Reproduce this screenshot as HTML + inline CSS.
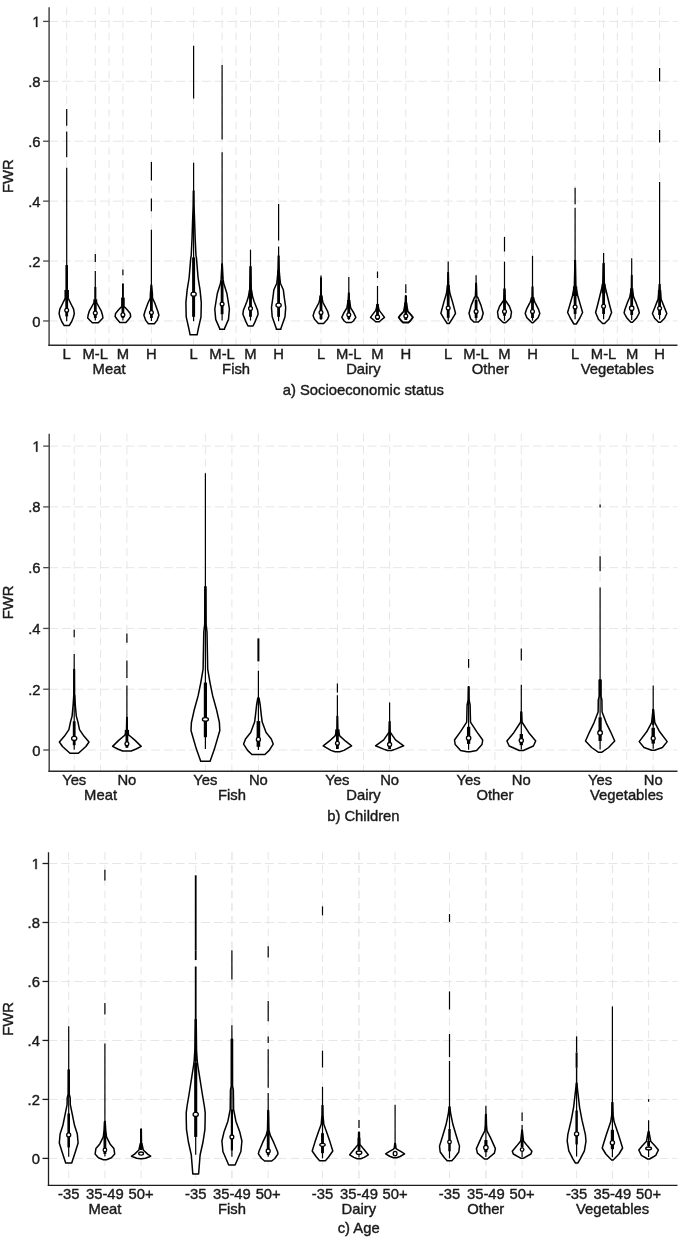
<!DOCTYPE html>
<html><head><meta charset="utf-8"><style>
html,body{margin:0;padding:0;background:#fff;}
svg{display:block;}
text{font-family:"Liberation Sans", sans-serif;font-size:14.8px;fill:#1a1a1a;stroke:#1a1a1a;stroke-width:0.4px;}
.ttl{font-size:14.8px;}
svg{filter:blur(0.35px);}
</style></head><body>
<svg width="685" height="1241" viewBox="0 0 685 1241">
<rect width="685" height="1241" fill="#fff"/>
<line x1="66.7" y1="7.2" x2="66.7" y2="345.3" stroke="#e6e6e6" stroke-width="1" stroke-dasharray="7.8 4.93"/>
<line x1="95.3" y1="7.2" x2="95.3" y2="345.3" stroke="#e6e6e6" stroke-width="1" stroke-dasharray="7.8 4.93"/>
<line x1="109.05" y1="7.2" x2="109.05" y2="345.3" stroke="#e6e6e6" stroke-width="1" stroke-dasharray="7.8 4.93"/>
<line x1="122.9" y1="7.2" x2="122.9" y2="345.3" stroke="#e6e6e6" stroke-width="1" stroke-dasharray="7.8 4.93"/>
<line x1="151.4" y1="7.2" x2="151.4" y2="345.3" stroke="#e6e6e6" stroke-width="1" stroke-dasharray="7.8 4.93"/>
<line x1="193.6" y1="7.2" x2="193.6" y2="345.3" stroke="#e6e6e6" stroke-width="1" stroke-dasharray="7.8 4.93"/>
<line x1="222.1" y1="7.2" x2="222.1" y2="345.3" stroke="#e6e6e6" stroke-width="1" stroke-dasharray="7.8 4.93"/>
<line x1="236.1" y1="7.2" x2="236.1" y2="345.3" stroke="#e6e6e6" stroke-width="1" stroke-dasharray="7.8 4.93"/>
<line x1="250.5" y1="7.2" x2="250.5" y2="345.3" stroke="#e6e6e6" stroke-width="1" stroke-dasharray="7.8 4.93"/>
<line x1="278.6" y1="7.2" x2="278.6" y2="345.3" stroke="#e6e6e6" stroke-width="1" stroke-dasharray="7.8 4.93"/>
<line x1="321" y1="7.2" x2="321" y2="345.3" stroke="#e6e6e6" stroke-width="1" stroke-dasharray="7.8 4.93"/>
<line x1="348.8" y1="7.2" x2="348.8" y2="345.3" stroke="#e6e6e6" stroke-width="1" stroke-dasharray="7.8 4.93"/>
<line x1="363.4" y1="7.2" x2="363.4" y2="345.3" stroke="#e6e6e6" stroke-width="1" stroke-dasharray="7.8 4.93"/>
<line x1="377.5" y1="7.2" x2="377.5" y2="345.3" stroke="#e6e6e6" stroke-width="1" stroke-dasharray="7.8 4.93"/>
<line x1="405.8" y1="7.2" x2="405.8" y2="345.3" stroke="#e6e6e6" stroke-width="1" stroke-dasharray="7.8 4.93"/>
<line x1="448.2" y1="7.2" x2="448.2" y2="345.3" stroke="#e6e6e6" stroke-width="1" stroke-dasharray="7.8 4.93"/>
<line x1="476.1" y1="7.2" x2="476.1" y2="345.3" stroke="#e6e6e6" stroke-width="1" stroke-dasharray="7.8 4.93"/>
<line x1="490.35" y1="7.2" x2="490.35" y2="345.3" stroke="#e6e6e6" stroke-width="1" stroke-dasharray="7.8 4.93"/>
<line x1="504.5" y1="7.2" x2="504.5" y2="345.3" stroke="#e6e6e6" stroke-width="1" stroke-dasharray="7.8 4.93"/>
<line x1="532.5" y1="7.2" x2="532.5" y2="345.3" stroke="#e6e6e6" stroke-width="1" stroke-dasharray="7.8 4.93"/>
<line x1="575.1" y1="7.2" x2="575.1" y2="345.3" stroke="#e6e6e6" stroke-width="1" stroke-dasharray="7.8 4.93"/>
<line x1="603.6" y1="7.2" x2="603.6" y2="345.3" stroke="#e6e6e6" stroke-width="1" stroke-dasharray="7.8 4.93"/>
<line x1="617.35" y1="7.2" x2="617.35" y2="345.3" stroke="#e6e6e6" stroke-width="1" stroke-dasharray="7.8 4.93"/>
<line x1="632.1" y1="7.2" x2="632.1" y2="345.3" stroke="#e6e6e6" stroke-width="1" stroke-dasharray="7.8 4.93"/>
<line x1="659.6" y1="7.2" x2="659.6" y2="345.3" stroke="#e6e6e6" stroke-width="1" stroke-dasharray="7.8 4.93"/>
<line x1="49.1" y1="320.95" x2="677.5" y2="320.95" stroke="#e6e6e6" stroke-width="1" stroke-dasharray="8.9 3.83"/>
<line x1="49.1" y1="261.04" x2="677.5" y2="261.04" stroke="#e6e6e6" stroke-width="1" stroke-dasharray="8.9 3.83"/>
<line x1="49.1" y1="201.13" x2="677.5" y2="201.13" stroke="#e6e6e6" stroke-width="1" stroke-dasharray="8.9 3.83"/>
<line x1="49.1" y1="141.22" x2="677.5" y2="141.22" stroke="#e6e6e6" stroke-width="1" stroke-dasharray="8.9 3.83"/>
<line x1="49.1" y1="81.31" x2="677.5" y2="81.31" stroke="#e6e6e6" stroke-width="1" stroke-dasharray="8.9 3.83"/>
<line x1="49.1" y1="21.4" x2="677.5" y2="21.4" stroke="#e6e6e6" stroke-width="1" stroke-dasharray="8.9 3.83"/>
<line x1="66.7" y1="108.9" x2="66.7" y2="125.8" stroke="#000" stroke-width="1.2"/><line x1="66.7" y1="131.4" x2="66.7" y2="157.2" stroke="#000" stroke-width="1.2"/><line x1="66.7" y1="167.7" x2="66.7" y2="266" stroke="#000" stroke-width="1.2"/><rect x="65.4" y="265.1" width="2.6" height="24.8" fill="#000"/><rect x="64.45" y="289.9" width="4.5" height="9" fill="#000"/><rect x="66.25" y="290.9" width="0.9" height="7" fill="#777"/><path d="M68.5 298.9 L71 304 L73.6 309.1 L74.3 313.6 L73.3 317.5 L71.7 321.5 L69.2 325.6 L64.2 325.6 L61.7 321.5 L60.1 317.5 L59.1 313.6 L59.8 309.1 L62.4 304 L64.9 298.9 Z" fill="#fff" stroke="#000" stroke-width="1.5" stroke-linejoin="round"/><line x1="66.7" y1="289.9" x2="66.7" y2="321.2" stroke="#000" stroke-width="1.2"/><line x1="66.7" y1="289.9" x2="66.7" y2="316.4" stroke="#000" stroke-width="2.8"/><circle cx="66.7" cy="310.2" r="1.9" fill="#fff" stroke="#000" stroke-width="1.3"/>
<line x1="95.3" y1="253.9" x2="95.3" y2="262.1" stroke="#000" stroke-width="1.2"/><line x1="95.3" y1="271" x2="95.3" y2="288" stroke="#000" stroke-width="1.2"/><rect x="94.25" y="287.1" width="2.1" height="12.3" fill="#000"/><rect x="93.35" y="299.4" width="3.9" height="3.6" fill="#000"/><path d="M96.8 303 L101.2 310.8 L102.5 315.2 L102.9 318 L98.3 322.8 L92.3 322.8 L87.7 318 L88.1 315.2 L89.4 310.8 L93.8 303 Z" fill="#fff" stroke="#000" stroke-width="1.5" stroke-linejoin="round"/><line x1="95.3" y1="299.4" x2="95.3" y2="320.4" stroke="#000" stroke-width="1.2"/><line x1="95.3" y1="299.4" x2="95.3" y2="318" stroke="#000" stroke-width="2.8"/><circle cx="95.3" cy="313" r="1.9" fill="#fff" stroke="#000" stroke-width="1.3"/>
<line x1="122.9" y1="269.6" x2="122.9" y2="275.3" stroke="#000" stroke-width="1.2"/><line x1="122.9" y1="283.6" x2="122.9" y2="298" stroke="#000" stroke-width="1.2"/><rect x="122.05" y="283.6" width="1.7" height="14.1" fill="#000"/><rect x="121.2" y="297.7" width="3.4" height="9.6" fill="#000"/><path d="M124.9 307.3 L127.4 310 L130.2 313.4 L130.7 316.5 L128.9 319 L125.9 322.5 L119.9 322.5 L116.9 319 L115.1 316.5 L115.6 313.4 L118.4 310 L120.9 307.3 Z" fill="#fff" stroke="#000" stroke-width="1.5" stroke-linejoin="round"/><line x1="122.9" y1="297.7" x2="122.9" y2="320.4" stroke="#000" stroke-width="1.2"/><line x1="122.9" y1="297.7" x2="122.9" y2="318" stroke="#000" stroke-width="2.8"/><circle cx="122.9" cy="314.7" r="1.9" fill="#fff" stroke="#000" stroke-width="1.3"/>
<line x1="151.4" y1="162" x2="151.4" y2="180.6" stroke="#000" stroke-width="1.2"/><line x1="151.4" y1="198.6" x2="151.4" y2="211.2" stroke="#000" stroke-width="1.2"/><line x1="151.4" y1="229.7" x2="151.4" y2="286" stroke="#000" stroke-width="1.2"/><path d="M151.55 285 L152.4 293.5 L152.5 298.1 L154.7 302.7 L157.8 311.2 L158.9 315.2 L157 320.4 L154.4 323.8 L148.4 323.8 L145.8 320.4 L143.9 315.2 L145 311.2 L148.1 302.7 L150.3 298.1 L150.4 293.5 L151.25 285 Z" fill="#fff" stroke="#000" stroke-width="1.5" stroke-linejoin="round"/><rect x="150.7" y="285" width="1.4" height="8.5" fill="#000"/><line x1="151.4" y1="285" x2="151.4" y2="321" stroke="#000" stroke-width="1.2"/><line x1="151.4" y1="296.8" x2="151.4" y2="318" stroke="#000" stroke-width="2.8"/><circle cx="151.4" cy="312.6" r="1.9" fill="#fff" stroke="#000" stroke-width="1.3"/>
<line x1="193.6" y1="45.8" x2="193.6" y2="98.6" stroke="#000" stroke-width="1.2"/><line x1="193.6" y1="162.8" x2="193.6" y2="192" stroke="#000" stroke-width="1.2"/><path d="M193.85 191 L194.05 205.8 L194.65 222.6 L195.15 238 L196 256 L196.4 257.4 L198.1 278 L200 289.7 L201.3 302.6 L201 316.8 L198.4 328.4 L197.1 334.8 L190.1 334.8 L188.8 328.4 L186.2 316.8 L185.9 302.6 L187.2 289.7 L189.1 278 L190.8 257.4 L191.2 256 L192.05 238 L192.55 222.6 L193.15 205.8 L193.35 191 Z" fill="#fff" stroke="#000" stroke-width="1.5" stroke-linejoin="round"/><line x1="193.6" y1="191" x2="193.6" y2="321.3" stroke="#000" stroke-width="1.2"/><line x1="193.6" y1="257.4" x2="193.6" y2="316.8" stroke="#000" stroke-width="3.0"/><ellipse cx="193.6" cy="294.2" rx="2.6" ry="2.0" fill="#fff" stroke="#000" stroke-width="1.3"/>
<line x1="222.1" y1="65.1" x2="222.1" y2="139.6" stroke="#000" stroke-width="1.2"/><line x1="222.1" y1="152.2" x2="222.1" y2="264.5" stroke="#000" stroke-width="1.2"/><path d="M222.25 263.9 L223.1 279.4 L223.7 283.2 L226.9 293.5 L229.4 309 L228.5 319.4 L224.6 328.4 L224.4 329.2 L219.8 329.2 L219.6 328.4 L215.7 319.4 L214.8 309 L217.3 293.5 L220.5 283.2 L221.1 279.4 L221.95 263.9 Z" fill="#fff" stroke="#000" stroke-width="1.5" stroke-linejoin="round"/><rect x="221.45" y="263.9" width="1.3" height="15.5" fill="#000"/><line x1="222.1" y1="263.9" x2="222.1" y2="320.6" stroke="#000" stroke-width="1.2"/><line x1="222.1" y1="280.6" x2="222.1" y2="314.2" stroke="#000" stroke-width="2.8"/><circle cx="222.1" cy="304.1" r="1.9" fill="#fff" stroke="#000" stroke-width="1.3"/>
<line x1="250.5" y1="249.7" x2="250.5" y2="267" stroke="#000" stroke-width="1.2"/><path d="M250.65 266.5 L251.25 289.7 L252.5 296.1 L254 301.3 L257.6 310.3 L258.1 314.2 L255 321.9 L253 326 L248 326 L246 321.9 L242.9 314.2 L243.4 310.3 L247 301.3 L248.5 296.1 L249.75 289.7 L250.35 266.5 Z" fill="#fff" stroke="#000" stroke-width="1.5" stroke-linejoin="round"/><rect x="249.45" y="266.5" width="2.1" height="23.2" fill="#000"/><rect x="248.8" y="289.7" width="3.4" height="9" fill="#000"/><line x1="250.5" y1="266.5" x2="250.5" y2="320.6" stroke="#000" stroke-width="1.2"/><line x1="250.5" y1="289.7" x2="250.5" y2="316.8" stroke="#000" stroke-width="2.8"/><circle cx="250.5" cy="308.4" r="1.9" fill="#fff" stroke="#000" stroke-width="1.3"/>
<line x1="278.6" y1="203.9" x2="278.6" y2="240.6" stroke="#000" stroke-width="1.2"/><line x1="278.6" y1="246.5" x2="278.6" y2="257" stroke="#000" stroke-width="1.2"/><path d="M278.9 256.1 L279.2 270.3 L279.7 276.7 L280.4 283.2 L283.3 289.7 L284.1 296.1 L285.7 307.5 L285 316.8 L280.9 328.4 L280.9 329.2 L276.3 329.2 L276.3 328.4 L272.2 316.8 L271.5 307.5 L273.1 296.1 L273.9 289.7 L276.8 283.2 L277.5 276.7 L278 270.3 L278.3 256.1 Z" fill="#fff" stroke="#000" stroke-width="1.5" stroke-linejoin="round"/><line x1="278.6" y1="256.1" x2="278.6" y2="321.3" stroke="#000" stroke-width="1.2"/><line x1="278.6" y1="270.3" x2="278.6" y2="316.8" stroke="#000" stroke-width="2.8"/><ellipse cx="278.6" cy="305.2" rx="2.6" ry="2.1" fill="#fff" stroke="#000" stroke-width="1.3"/>
<line x1="321" y1="275.4" x2="321" y2="279" stroke="#000" stroke-width="1.2"/><path d="M321.15 278 L321.25 295.5 L323 302.5 L327.6 311.3 L328.9 315.7 L327.5 319.2 L323.6 323.4 L318.4 323.4 L314.5 319.2 L313.1 315.7 L314.4 311.3 L319 302.5 L320.75 295.5 L320.85 278 Z" fill="#fff" stroke="#000" stroke-width="1.5" stroke-linejoin="round"/><rect x="320.45" y="278" width="1.1" height="17.5" fill="#000"/><rect x="319.5" y="295.5" width="3" height="7" fill="#000"/><line x1="321" y1="278" x2="321" y2="320" stroke="#000" stroke-width="1.2"/><line x1="321" y1="295.5" x2="321" y2="319" stroke="#000" stroke-width="2.8"/><circle cx="321" cy="312.6" r="1.9" fill="#fff" stroke="#000" stroke-width="1.3"/>
<line x1="348.8" y1="277.1" x2="348.8" y2="293" stroke="#000" stroke-width="1.2"/><path d="M348.95 292.9 L349.35 299.9 L350.7 307.8 L353.8 313 L355.8 317.4 L353.4 321 L351.4 322.5 L346.2 322.5 L344.2 321 L341.8 317.4 L343.8 313 L346.9 307.8 L348.25 299.9 L348.65 292.9 Z" fill="#fff" stroke="#000" stroke-width="1.5" stroke-linejoin="round"/><rect x="347.95" y="292.9" width="1.7" height="7" fill="#000"/><rect x="347.5" y="299.9" width="2.6" height="9.6" fill="#000"/><line x1="348.8" y1="292.9" x2="348.8" y2="320" stroke="#000" stroke-width="1.2"/><line x1="348.8" y1="299.9" x2="348.8" y2="319" stroke="#000" stroke-width="2.8"/><circle cx="348.8" cy="314.8" r="1.9" fill="#fff" stroke="#000" stroke-width="1.3"/>
<line x1="377.5" y1="271.5" x2="377.5" y2="278" stroke="#000" stroke-width="1.2"/><line x1="377.5" y1="285.9" x2="377.5" y2="305" stroke="#000" stroke-width="1.2"/><path d="M377.65 304.3 L379.2 310.4 L381.9 313.9 L384.5 317.4 L381.2 320 L379.3 321.8 L375.7 321.8 L373.8 320 L370.5 317.4 L373.1 313.9 L375.8 310.4 L377.35 304.3 Z" fill="#fff" stroke="#000" stroke-width="1.5" stroke-linejoin="round"/><rect x="376.65" y="304.3" width="1.7" height="7" fill="#000"/><line x1="377.5" y1="304.3" x2="377.5" y2="320" stroke="#000" stroke-width="1.2"/><line x1="377.5" y1="304.3" x2="377.5" y2="320" stroke="#000" stroke-width="2.8"/><circle cx="377.5" cy="317" r="2.0" fill="#fff" stroke="#000" stroke-width="1.3"/>
<line x1="405.8" y1="284.2" x2="405.8" y2="292.9" stroke="#000" stroke-width="1.2"/><line x1="405.8" y1="296" x2="405.8" y2="303" stroke="#000" stroke-width="1.2"/><path d="M405.95 296 L406.15 302.5 L407.8 311.3 L411 314.8 L412.9 317.4 L410.6 320.5 L408.4 322.5 L403.2 322.5 L401 320.5 L398.7 317.4 L400.6 314.8 L403.8 311.3 L405.45 302.5 L405.65 296 Z" fill="#fff" stroke="#000" stroke-width="1.8" stroke-linejoin="round"/><rect x="405.15" y="296" width="1.3" height="6.5" fill="#000"/><rect x="404.5" y="302.5" width="2.6" height="8.8" fill="#000"/><line x1="405.8" y1="296" x2="405.8" y2="320" stroke="#000" stroke-width="1.2"/><line x1="405.8" y1="302.5" x2="405.8" y2="320" stroke="#000" stroke-width="2.8"/><circle cx="405.8" cy="316.1" r="1.9" fill="#fff" stroke="#000" stroke-width="1.3"/>
<line x1="448.2" y1="261.5" x2="448.2" y2="273" stroke="#000" stroke-width="1.2"/><path d="M448.35 272.6 L448.65 285 L450 293.8 L452.2 300.9 L453.9 307.1 L455.5 313.3 L452.4 318.7 L449.2 323.5 L447.2 323.5 L444 318.7 L440.9 313.3 L442.5 307.1 L444.2 300.9 L446.4 293.8 L447.75 285 L448.05 272.6 Z" fill="#fff" stroke="#000" stroke-width="1.5" stroke-linejoin="round"/><rect x="447.45" y="272.6" width="1.5" height="12.4" fill="#000"/><rect x="446.65" y="285" width="3.1" height="8.8" fill="#000"/><line x1="448.2" y1="272.6" x2="448.2" y2="321.3" stroke="#000" stroke-width="1.2"/><line x1="448.2" y1="293.8" x2="448.2" y2="317.8" stroke="#000" stroke-width="2.8"/><circle cx="448.2" cy="308" r="1.9" fill="#fff" stroke="#000" stroke-width="1.3"/>
<line x1="476.1" y1="275.2" x2="476.1" y2="284" stroke="#000" stroke-width="1.2"/><path d="M476.25 283.2 L476.8 296.5 L477.7 297.4 L481 305.4 L483.2 313.3 L481.6 318.7 L478.3 322 L473.9 322 L470.6 318.7 L469 313.3 L471.2 305.4 L474.5 297.4 L475.4 296.5 L475.95 283.2 Z" fill="#fff" stroke="#000" stroke-width="1.5" stroke-linejoin="round"/><rect x="475.1" y="283.2" width="2" height="13.3" fill="#000"/><line x1="476.1" y1="283.2" x2="476.1" y2="320.7" stroke="#000" stroke-width="1.2"/><line x1="476.1" y1="300" x2="476.1" y2="318" stroke="#000" stroke-width="2.8"/><circle cx="476.1" cy="311.6" r="1.9" fill="#fff" stroke="#000" stroke-width="1.3"/>
<line x1="504.5" y1="236.9" x2="504.5" y2="251.5" stroke="#000" stroke-width="1.2"/><line x1="504.5" y1="261.6" x2="504.5" y2="289" stroke="#000" stroke-width="1.2"/><path d="M504.65 288.7 L505.25 300.3 L506 301.3 L509.4 306.2 L511.5 312 L510.6 317.8 L506.9 321.6 L505.3 322.7 L503.7 322.7 L502.1 321.6 L498.4 317.8 L497.5 312 L499.6 306.2 L503 301.3 L503.75 300.3 L504.35 288.7 Z" fill="#fff" stroke="#000" stroke-width="1.5" stroke-linejoin="round"/><rect x="503.45" y="288.7" width="2.1" height="11.6" fill="#000"/><line x1="504.5" y1="288.7" x2="504.5" y2="320.7" stroke="#000" stroke-width="1.2"/><line x1="504.5" y1="300.3" x2="504.5" y2="315.8" stroke="#000" stroke-width="2.8"/><circle cx="504.5" cy="311.5" r="1.9" fill="#fff" stroke="#000" stroke-width="1.3"/>
<line x1="532.5" y1="255.8" x2="532.5" y2="287" stroke="#000" stroke-width="1.2"/><path d="M532.65 286.8 L532.9 297.4 L534.9 302.3 L535.5 303.3 L538.4 309.1 L539.8 313.4 L538.1 317.8 L534.2 321.6 L533 322.7 L532 322.7 L530.8 321.6 L526.9 317.8 L525.2 313.4 L526.6 309.1 L529.5 303.3 L530.1 302.3 L532.1 297.4 L532.35 286.8 Z" fill="#fff" stroke="#000" stroke-width="1.5" stroke-linejoin="round"/><rect x="531.8" y="286.8" width="1.4" height="10.6" fill="#000"/><rect x="530.55" y="297.4" width="3.9" height="4.9" fill="#000"/><line x1="532.5" y1="286.8" x2="532.5" y2="320.7" stroke="#000" stroke-width="1.2"/><line x1="532.5" y1="297.4" x2="532.5" y2="318" stroke="#000" stroke-width="2.8"/><circle cx="532.5" cy="311.5" r="1.9" fill="#fff" stroke="#000" stroke-width="1.3"/>
<line x1="575.1" y1="187.8" x2="575.1" y2="204.2" stroke="#000" stroke-width="1.2"/><line x1="575.1" y1="207.7" x2="575.1" y2="261" stroke="#000" stroke-width="1.2"/><path d="M575.25 260.4 L575.85 286.4 L577.8 296 L580.6 305.6 L582.6 312.5 L579.9 318 L576.3 324 L573.9 324 L570.3 318 L567.6 312.5 L569.6 305.6 L572.4 296 L574.35 286.4 L574.95 260.4 Z" fill="#fff" stroke="#000" stroke-width="1.5" stroke-linejoin="round"/><rect x="574.05" y="260.4" width="2.1" height="26" fill="#000"/><rect x="572.95" y="286.4" width="4.3" height="9.6" fill="#000"/><line x1="575.1" y1="260.4" x2="575.1" y2="319.3" stroke="#000" stroke-width="1.2"/><line x1="575.1" y1="286.4" x2="575.1" y2="314" stroke="#000" stroke-width="2.8"/><circle cx="575.1" cy="307" r="1.9" fill="#fff" stroke="#000" stroke-width="1.3"/>
<line x1="603.6" y1="252.9" x2="603.6" y2="264" stroke="#000" stroke-width="1.2"/><path d="M603.75 263.2 L604.35 283.7 L606.7 293.3 L609.4 304.2 L611.6 312.5 L608.8 319.3 L604.6 323.5 L602.6 323.5 L598.4 319.3 L595.6 312.5 L597.8 304.2 L600.5 293.3 L602.85 283.7 L603.45 263.2 Z" fill="#fff" stroke="#000" stroke-width="1.5" stroke-linejoin="round"/><rect x="602.55" y="263.2" width="2.1" height="20.5" fill="#000"/><rect x="601.65" y="283.7" width="3.9" height="9.6" fill="#000"/><line x1="603.6" y1="263.2" x2="603.6" y2="319.3" stroke="#000" stroke-width="1.2"/><line x1="603.6" y1="283.7" x2="603.6" y2="314" stroke="#000" stroke-width="2.8"/><circle cx="603.6" cy="306.3" r="1.9" fill="#fff" stroke="#000" stroke-width="1.3"/>
<line x1="631.7" y1="258.3" x2="631.7" y2="276" stroke="#000" stroke-width="1.2"/><path d="M631.85 275.4 L632 288.5 L633.7 297.3 L636.3 303.4 L638.5 309.5 L639.3 313 L636.3 318.3 L632.5 322.3 L630.9 322.3 L627.1 318.3 L624.1 313 L624.9 309.5 L627.1 303.4 L629.7 297.3 L631.4 288.5 L631.55 275.4 Z" fill="#fff" stroke="#000" stroke-width="1.5" stroke-linejoin="round"/><rect x="631.1" y="275.4" width="1.2" height="13.1" fill="#000"/><rect x="630.1" y="288.5" width="3.2" height="8.8" fill="#000"/><line x1="631.7" y1="275.4" x2="631.7" y2="320" stroke="#000" stroke-width="1.2"/><line x1="631.7" y1="288.5" x2="631.7" y2="315" stroke="#000" stroke-width="2.8"/><circle cx="631.7" cy="308.2" r="2.2" fill="#fff" stroke="#000" stroke-width="1.3"/>
<line x1="659.6" y1="67.9" x2="659.6" y2="81.4" stroke="#000" stroke-width="1.2"/><line x1="659.6" y1="130" x2="659.6" y2="142.4" stroke="#000" stroke-width="1.2"/><line x1="659.6" y1="181.9" x2="659.6" y2="285" stroke="#000" stroke-width="1.2"/><path d="M659.75 284.2 L660.15 290.3 L661.05 299 L661.4 299.9 L664.2 306.9 L666.8 313.5 L664.6 318.3 L660.6 322.3 L658.6 322.3 L654.6 318.3 L652.4 313.5 L655 306.9 L657.8 299.9 L658.15 299 L659.05 290.3 L659.45 284.2 Z" fill="#fff" stroke="#000" stroke-width="1.5" stroke-linejoin="round"/><rect x="658.75" y="284.2" width="1.7" height="6.1" fill="#000"/><rect x="657.85" y="290.3" width="3.5" height="8.7" fill="#000"/><line x1="659.6" y1="284.2" x2="659.6" y2="319.5" stroke="#000" stroke-width="1.2"/><line x1="659.6" y1="290.3" x2="659.6" y2="315" stroke="#000" stroke-width="2.8"/><circle cx="659.6" cy="308.2" r="1.9" fill="#fff" stroke="#000" stroke-width="1.3"/>
<line x1="49.1" y1="7.2" x2="49.1" y2="346" stroke="#484848" stroke-width="1.5"/>
<line x1="48.4" y1="345.3" x2="677.5" y2="345.3" stroke="#2a2a2a" stroke-width="1.4"/>
<line x1="43.1" y1="320.95" x2="49.1" y2="320.95" stroke="#484848" stroke-width="1.3"/>
<text x="40.5" y="326.55" text-anchor="end">0</text>
<line x1="43.1" y1="261.04" x2="49.1" y2="261.04" stroke="#484848" stroke-width="1.3"/>
<text x="40.5" y="266.64" text-anchor="end">.2</text>
<line x1="43.1" y1="201.13" x2="49.1" y2="201.13" stroke="#484848" stroke-width="1.3"/>
<text x="40.5" y="206.73" text-anchor="end">.4</text>
<line x1="43.1" y1="141.22" x2="49.1" y2="141.22" stroke="#484848" stroke-width="1.3"/>
<text x="40.5" y="146.82" text-anchor="end">.6</text>
<line x1="43.1" y1="81.31" x2="49.1" y2="81.31" stroke="#484848" stroke-width="1.3"/>
<text x="40.5" y="86.91" text-anchor="end">.8</text>
<line x1="43.1" y1="21.4" x2="49.1" y2="21.4" stroke="#484848" stroke-width="1.3"/>
<path transform="translate(32.27 27) scale(0.007227 -0.007227)" d="M515 0V1237L197 1010V1180L530 1409H696V0Z" fill="#1a1a1a" stroke="#1a1a1a" stroke-width="55.4"/>
<text x="0" y="0" text-anchor="middle" transform="translate(13.1 176.25) rotate(-90)">FWR</text>
<text x="66.7" y="359.2" text-anchor="middle">L</text>
<text x="95.3" y="359.2" text-anchor="middle">M-L</text>
<text x="122.9" y="359.2" text-anchor="middle">M</text>
<text x="151.4" y="359.2" text-anchor="middle">H</text>
<text x="109.05" y="373.9" text-anchor="middle">Meat</text>
<text x="193.6" y="359.2" text-anchor="middle">L</text>
<text x="222.1" y="359.2" text-anchor="middle">M-L</text>
<text x="250.5" y="359.2" text-anchor="middle">M</text>
<text x="278.6" y="359.2" text-anchor="middle">H</text>
<text x="236.1" y="373.9" text-anchor="middle">Fish</text>
<text x="321" y="359.2" text-anchor="middle">L</text>
<text x="348.8" y="359.2" text-anchor="middle">M-L</text>
<text x="377.5" y="359.2" text-anchor="middle">M</text>
<text x="405.8" y="359.2" text-anchor="middle">H</text>
<text x="363.4" y="373.9" text-anchor="middle">Dairy</text>
<text x="448.2" y="359.2" text-anchor="middle">L</text>
<text x="476.1" y="359.2" text-anchor="middle">M-L</text>
<text x="504.5" y="359.2" text-anchor="middle">M</text>
<text x="532.5" y="359.2" text-anchor="middle">H</text>
<text x="490.35" y="373.9" text-anchor="middle">Other</text>
<text x="575.1" y="359.2" text-anchor="middle">L</text>
<text x="603.6" y="359.2" text-anchor="middle">M-L</text>
<text x="632.1" y="359.2" text-anchor="middle">M</text>
<text x="659.6" y="359.2" text-anchor="middle">H</text>
<text x="617.35" y="373.9" text-anchor="middle">Vegetables</text>
<text x="363.3" y="395.4" text-anchor="middle" class="ttl">a) Socioeconomic status</text>
<line x1="74.2" y1="433.7" x2="74.2" y2="771.2" stroke="#e6e6e6" stroke-width="1" stroke-dasharray="7.8 4.93"/>
<line x1="100.55" y1="433.7" x2="100.55" y2="771.2" stroke="#e6e6e6" stroke-width="1" stroke-dasharray="7.8 4.93"/>
<line x1="126.9" y1="433.7" x2="126.9" y2="771.2" stroke="#e6e6e6" stroke-width="1" stroke-dasharray="7.8 4.93"/>
<line x1="205.4" y1="433.7" x2="205.4" y2="771.2" stroke="#e6e6e6" stroke-width="1" stroke-dasharray="7.8 4.93"/>
<line x1="231.9" y1="433.7" x2="231.9" y2="771.2" stroke="#e6e6e6" stroke-width="1" stroke-dasharray="7.8 4.93"/>
<line x1="258.4" y1="433.7" x2="258.4" y2="771.2" stroke="#e6e6e6" stroke-width="1" stroke-dasharray="7.8 4.93"/>
<line x1="337.4" y1="433.7" x2="337.4" y2="771.2" stroke="#e6e6e6" stroke-width="1" stroke-dasharray="7.8 4.93"/>
<line x1="363.5" y1="433.7" x2="363.5" y2="771.2" stroke="#e6e6e6" stroke-width="1" stroke-dasharray="7.8 4.93"/>
<line x1="389.6" y1="433.7" x2="389.6" y2="771.2" stroke="#e6e6e6" stroke-width="1" stroke-dasharray="7.8 4.93"/>
<line x1="468.6" y1="433.7" x2="468.6" y2="771.2" stroke="#e6e6e6" stroke-width="1" stroke-dasharray="7.8 4.93"/>
<line x1="494.95" y1="433.7" x2="494.95" y2="771.2" stroke="#e6e6e6" stroke-width="1" stroke-dasharray="7.8 4.93"/>
<line x1="521.3" y1="433.7" x2="521.3" y2="771.2" stroke="#e6e6e6" stroke-width="1" stroke-dasharray="7.8 4.93"/>
<line x1="600.1" y1="433.7" x2="600.1" y2="771.2" stroke="#e6e6e6" stroke-width="1" stroke-dasharray="7.8 4.93"/>
<line x1="626.65" y1="433.7" x2="626.65" y2="771.2" stroke="#e6e6e6" stroke-width="1" stroke-dasharray="7.8 4.93"/>
<line x1="653.2" y1="433.7" x2="653.2" y2="771.2" stroke="#e6e6e6" stroke-width="1" stroke-dasharray="7.8 4.93"/>
<line x1="49.2" y1="750" x2="677.5" y2="750" stroke="#e6e6e6" stroke-width="1" stroke-dasharray="8.9 3.83"/>
<line x1="49.2" y1="689.22" x2="677.5" y2="689.22" stroke="#e6e6e6" stroke-width="1" stroke-dasharray="8.9 3.83"/>
<line x1="49.2" y1="628.44" x2="677.5" y2="628.44" stroke="#e6e6e6" stroke-width="1" stroke-dasharray="8.9 3.83"/>
<line x1="49.2" y1="567.66" x2="677.5" y2="567.66" stroke="#e6e6e6" stroke-width="1" stroke-dasharray="8.9 3.83"/>
<line x1="49.2" y1="506.88" x2="677.5" y2="506.88" stroke="#e6e6e6" stroke-width="1" stroke-dasharray="8.9 3.83"/>
<line x1="49.2" y1="446.1" x2="677.5" y2="446.1" stroke="#e6e6e6" stroke-width="1" stroke-dasharray="8.9 3.83"/>
<line x1="74.2" y1="629.8" x2="74.2" y2="637.2" stroke="#000" stroke-width="1.2"/><line x1="74.2" y1="653.9" x2="74.2" y2="670" stroke="#000" stroke-width="1.2"/><path d="M74.5 669.6 L74.6 694.8 L75.35 705.8 L76.3 716.1 L77.9 721.9 L79.5 729.7 L83.9 736.1 L89 742 L85.9 746.5 L78.4 753.3 L70 753.3 L62.5 746.5 L59.4 742 L64.5 736.1 L68.9 729.7 L70.5 721.9 L72.1 716.1 L73.05 705.8 L73.8 694.8 L73.9 669.6 Z" fill="#fff" stroke="#000" stroke-width="1.5" stroke-linejoin="round"/><rect x="73.65" y="669.6" width="1.1" height="25.2" fill="#000"/><rect x="73.05" y="694.8" width="2.3" height="11" fill="#000"/><line x1="74.2" y1="669.6" x2="74.2" y2="749.7" stroke="#000" stroke-width="1.2"/><line x1="74.2" y1="721.3" x2="74.2" y2="745.2" stroke="#000" stroke-width="2.8"/><ellipse cx="74.2" cy="738.4" rx="2.6" ry="2.0" fill="#fff" stroke="#000" stroke-width="1.3"/>
<line x1="126.9" y1="633.5" x2="126.9" y2="642.8" stroke="#000" stroke-width="1.2"/><line x1="126.9" y1="660.4" x2="126.9" y2="678" stroke="#000" stroke-width="1.2"/><line x1="126.9" y1="685.4" x2="126.9" y2="718" stroke="#000" stroke-width="1.2"/><path d="M127.05 717.4 L127.3 729.9 L128.75 735.2 L129.7 735.8 L135.1 740.4 L141.2 746.4 L136.1 749 L131.2 751 L122.6 751 L117.7 749 L112.6 746.4 L118.7 740.4 L124.1 735.8 L125.05 735.2 L126.5 729.9 L126.75 717.4 Z" fill="#fff" stroke="#000" stroke-width="1.5" stroke-linejoin="round"/><rect x="126.2" y="717.4" width="1.4" height="12.5" fill="#000"/><rect x="124.75" y="729.9" width="4.3" height="5.3" fill="#000"/><line x1="126.9" y1="717.4" x2="126.9" y2="747.7" stroke="#000" stroke-width="1.2"/><line x1="126.9" y1="730" x2="126.9" y2="747.7" stroke="#000" stroke-width="2.8"/><circle cx="126.9" cy="743.7" r="1.9" fill="#fff" stroke="#000" stroke-width="1.3"/>
<line x1="205.4" y1="473.3" x2="205.4" y2="590" stroke="#000" stroke-width="1.2"/><path d="M205.9 586.8 L206.1 624 L207 632 L207.7 669.2 L210 682.6 L212.7 695.9 L216.4 709.2 L219.4 722.5 L219.8 730.5 L218.3 735.8 L214.4 749.1 L210.1 761.2 L200.7 761.2 L196.4 749.1 L192.5 735.8 L191 730.5 L191.4 722.5 L194.4 709.2 L198.1 695.9 L200.8 682.6 L203.1 669.2 L203.8 632 L204.7 624 L204.9 586.8 Z" fill="#fff" stroke="#000" stroke-width="1.5" stroke-linejoin="round"/><rect x="204.5" y="586.8" width="1.8" height="37.2" fill="#000"/><line x1="205.4" y1="586.8" x2="205.4" y2="749.1" stroke="#000" stroke-width="1.2"/><line x1="205.4" y1="682.6" x2="205.4" y2="737.2" stroke="#000" stroke-width="3.2"/><ellipse cx="205.4" cy="719.4" rx="3.0" ry="1.7" fill="#fff" stroke="#000" stroke-width="1.3"/>
<line x1="258.4" y1="638.4" x2="258.4" y2="661.4" stroke="#000" stroke-width="2.0"/><line x1="258.4" y1="670.8" x2="258.4" y2="699" stroke="#000" stroke-width="1.2"/><path d="M259 698 L260.2 705 L261.4 715.9 L262.2 722.1 L266.1 732.6 L271.3 738.9 L273.2 744.1 L269.2 750.4 L264.9 754.5 L251.9 754.5 L247.6 750.4 L243.6 744.1 L245.5 738.9 L250.7 732.6 L254.6 722.1 L255.4 715.9 L256.6 705 L257.8 698 Z" fill="#fff" stroke="#000" stroke-width="1.5" stroke-linejoin="round"/><rect x="257.75" y="698" width="1.3" height="7" fill="#000"/><line x1="258.4" y1="698" x2="258.4" y2="749.9" stroke="#000" stroke-width="1.2"/><line x1="258.4" y1="721.1" x2="258.4" y2="746.8" stroke="#000" stroke-width="3.6"/><circle cx="258.4" cy="739.4" r="2.0" fill="#fff" stroke="#000" stroke-width="1.3"/>
<line x1="337.4" y1="683.4" x2="337.4" y2="692.6" stroke="#000" stroke-width="1.2"/><line x1="337.4" y1="695.2" x2="337.4" y2="717" stroke="#000" stroke-width="1.2"/><path d="M337.55 716.2 L337.8 729.4 L339.7 735.9 L345.6 741.2 L351.6 745.8 L343.9 750.4 L339.7 751.8 L335.1 751.8 L330.9 750.4 L323.2 745.8 L329.2 741.2 L335.1 735.9 L337 729.4 L337.25 716.2 Z" fill="#fff" stroke="#000" stroke-width="1.5" stroke-linejoin="round"/><rect x="336.7" y="716.2" width="1.4" height="13.2" fill="#000"/><rect x="335.2" y="729.4" width="4.4" height="6.5" fill="#000"/><line x1="337.4" y1="716.2" x2="337.4" y2="749" stroke="#000" stroke-width="1.2"/><line x1="337.4" y1="732" x2="337.4" y2="749" stroke="#000" stroke-width="2.8"/><circle cx="337.4" cy="743.2" r="1.9" fill="#fff" stroke="#000" stroke-width="1.3"/>
<line x1="389.6" y1="702.4" x2="389.6" y2="722" stroke="#000" stroke-width="1.2"/><path d="M389.75 721.5 L390.15 732 L391 733.3 L395.5 739.9 L403.7 745.8 L395.5 749.1 L391.6 750.5 L387.6 750.5 L383.7 749.1 L375.5 745.8 L383.7 739.9 L388.2 733.3 L389.05 732 L389.45 721.5 Z" fill="#fff" stroke="#000" stroke-width="1.5" stroke-linejoin="round"/><rect x="388.75" y="721.5" width="1.7" height="10.5" fill="#000"/><line x1="389.6" y1="721.5" x2="389.6" y2="749" stroke="#000" stroke-width="1.2"/><line x1="389.6" y1="732" x2="389.6" y2="749" stroke="#000" stroke-width="2.8"/><circle cx="389.6" cy="744.5" r="2.0" fill="#fff" stroke="#000" stroke-width="1.3"/>
<line x1="468.6" y1="659.1" x2="468.6" y2="667.7" stroke="#000" stroke-width="1.2"/><line x1="468.6" y1="686.7" x2="468.6" y2="690" stroke="#000" stroke-width="1.2"/><path d="M468.9 686.7 L469.1 699.9 L470.1 705 L470.5 722.2 L476.5 731.4 L482.7 740 L482 744.5 L476.6 750.5 L470.1 751.8 L467.1 751.8 L460.6 750.5 L455.2 744.5 L454.5 740 L460.7 731.4 L466.7 722.2 L467.1 705 L468.1 699.9 L468.3 686.7 Z" fill="#fff" stroke="#000" stroke-width="1.5" stroke-linejoin="round"/><rect x="468.05" y="686.7" width="1.1" height="13.2" fill="#000"/><line x1="468.6" y1="686.7" x2="468.6" y2="749.8" stroke="#000" stroke-width="1.2"/><line x1="468.6" y1="726.8" x2="468.6" y2="743.9" stroke="#000" stroke-width="3.3"/><circle cx="468.6" cy="738" r="2.2" fill="#fff" stroke="#000" stroke-width="1.3"/>
<line x1="521.3" y1="648.6" x2="521.3" y2="660.4" stroke="#000" stroke-width="1.2"/><line x1="521.3" y1="684.8" x2="521.3" y2="712" stroke="#000" stroke-width="1.2"/><path d="M521.45 711.7 L522 722.2 L522.9 723.5 L528.8 732.7 L535.7 741 L533.4 746 L523.3 750.5 L519.3 750.5 L509.2 746 L506.9 741 L513.8 732.7 L519.7 723.5 L520.6 722.2 L521.15 711.7 Z" fill="#fff" stroke="#000" stroke-width="1.5" stroke-linejoin="round"/><rect x="520.3" y="711.7" width="2" height="10.5" fill="#000"/><line x1="521.3" y1="711.7" x2="521.3" y2="749.5" stroke="#000" stroke-width="1.2"/><line x1="521.3" y1="734" x2="521.3" y2="745.2" stroke="#000" stroke-width="3.3"/><circle cx="521.3" cy="740.6" r="2.1" fill="#fff" stroke="#000" stroke-width="1.3"/>
<line x1="600.1" y1="504.5" x2="600.1" y2="507.5" stroke="#000" stroke-width="1.2"/><line x1="600.1" y1="556.3" x2="600.1" y2="571.3" stroke="#000" stroke-width="1.2"/><line x1="600.1" y1="587.5" x2="600.1" y2="681" stroke="#000" stroke-width="1.2"/><path d="M601 679.9 L601 696.3 L601.9 700 L602.05 710.7 L602.1 712 L606.1 722.6 L610.6 731.8 L614.7 741 L608.6 747.5 L601.6 752.3 L598.6 752.3 L591.6 747.5 L585.5 741 L589.6 731.8 L594.1 722.6 L598.1 712 L598.15 710.7 L598.3 700 L599.2 696.3 L599.2 679.9 Z" fill="#fff" stroke="#000" stroke-width="1.5" stroke-linejoin="round"/><rect x="598.9" y="679.9" width="2.4" height="16.4" fill="#000"/><line x1="600.1" y1="679.9" x2="600.1" y2="749.5" stroke="#000" stroke-width="1.2"/><line x1="600.1" y1="717.3" x2="600.1" y2="741" stroke="#000" stroke-width="3.2"/><circle cx="600.1" cy="732.8" r="2.3" fill="#fff" stroke="#000" stroke-width="1.3"/>
<line x1="653.2" y1="685.5" x2="653.2" y2="710" stroke="#000" stroke-width="1.2"/><path d="M653.35 709.4 L654.8 722.6 L659.7 731.8 L667.2 741.6 L662.4 747.5 L654.7 750.2 L651.7 750.2 L644 747.5 L639.2 741.6 L646.7 731.8 L651.6 722.6 L653.05 709.4 Z" fill="#fff" stroke="#000" stroke-width="1.5" stroke-linejoin="round"/><rect x="652.15" y="709.4" width="2.1" height="15.8" fill="#000"/><line x1="653.2" y1="709.4" x2="653.2" y2="748.8" stroke="#000" stroke-width="1.2"/><line x1="653.2" y1="727.8" x2="653.2" y2="743.6" stroke="#000" stroke-width="3.4"/><circle cx="653.2" cy="738.3" r="2.0" fill="#fff" stroke="#000" stroke-width="1.3"/>
<line x1="49.2" y1="433.7" x2="49.2" y2="771.9" stroke="#484848" stroke-width="1.5"/>
<line x1="48.5" y1="771.2" x2="677.5" y2="771.2" stroke="#2a2a2a" stroke-width="1.4"/>
<line x1="43.2" y1="750" x2="49.2" y2="750" stroke="#484848" stroke-width="1.3"/>
<text x="40.6" y="755.6" text-anchor="end">0</text>
<line x1="43.2" y1="689.22" x2="49.2" y2="689.22" stroke="#484848" stroke-width="1.3"/>
<text x="40.6" y="694.82" text-anchor="end">.2</text>
<line x1="43.2" y1="628.44" x2="49.2" y2="628.44" stroke="#484848" stroke-width="1.3"/>
<text x="40.6" y="634.04" text-anchor="end">.4</text>
<line x1="43.2" y1="567.66" x2="49.2" y2="567.66" stroke="#484848" stroke-width="1.3"/>
<text x="40.6" y="573.26" text-anchor="end">.6</text>
<line x1="43.2" y1="506.88" x2="49.2" y2="506.88" stroke="#484848" stroke-width="1.3"/>
<text x="40.6" y="512.48" text-anchor="end">.8</text>
<line x1="43.2" y1="446.1" x2="49.2" y2="446.1" stroke="#484848" stroke-width="1.3"/>
<path transform="translate(32.37 451.7) scale(0.007227 -0.007227)" d="M515 0V1237L197 1010V1180L530 1409H696V0Z" fill="#1a1a1a" stroke="#1a1a1a" stroke-width="55.4"/>
<text x="0" y="0" text-anchor="middle" transform="translate(13.1 602.45) rotate(-90)">FWR</text>
<text x="74.2" y="785.1" text-anchor="middle">Yes</text>
<text x="126.9" y="785.1" text-anchor="middle">No</text>
<text x="100.55" y="799.8" text-anchor="middle">Meat</text>
<text x="205.4" y="785.1" text-anchor="middle">Yes</text>
<text x="258.4" y="785.1" text-anchor="middle">No</text>
<text x="231.9" y="799.8" text-anchor="middle">Fish</text>
<text x="337.4" y="785.1" text-anchor="middle">Yes</text>
<text x="389.6" y="785.1" text-anchor="middle">No</text>
<text x="363.5" y="799.8" text-anchor="middle">Dairy</text>
<text x="468.6" y="785.1" text-anchor="middle">Yes</text>
<text x="521.3" y="785.1" text-anchor="middle">No</text>
<text x="494.95" y="799.8" text-anchor="middle">Other</text>
<text x="600.1" y="785.1" text-anchor="middle">Yes</text>
<text x="653.2" y="785.1" text-anchor="middle">No</text>
<text x="626.65" y="799.8" text-anchor="middle">Vegetables</text>
<text x="363.35" y="821.3" text-anchor="middle" class="ttl">b) Children</text>
<line x1="68.7" y1="852.3" x2="68.7" y2="1185.4" stroke="#e6e6e6" stroke-width="1" stroke-dasharray="7.8 4.93"/>
<line x1="104.9" y1="852.3" x2="104.9" y2="1185.4" stroke="#e6e6e6" stroke-width="1" stroke-dasharray="7.8 4.93"/>
<line x1="141.1" y1="852.3" x2="141.1" y2="1185.4" stroke="#e6e6e6" stroke-width="1" stroke-dasharray="7.8 4.93"/>
<line x1="195.7" y1="852.3" x2="195.7" y2="1185.4" stroke="#e6e6e6" stroke-width="1" stroke-dasharray="7.8 4.93"/>
<line x1="231.9" y1="852.3" x2="231.9" y2="1185.4" stroke="#e6e6e6" stroke-width="1" stroke-dasharray="7.8 4.93"/>
<line x1="231.95" y1="852.3" x2="231.95" y2="1185.4" stroke="#e6e6e6" stroke-width="1" stroke-dasharray="7.8 4.93"/>
<line x1="268.2" y1="852.3" x2="268.2" y2="1185.4" stroke="#e6e6e6" stroke-width="1" stroke-dasharray="7.8 4.93"/>
<line x1="322.5" y1="852.3" x2="322.5" y2="1185.4" stroke="#e6e6e6" stroke-width="1" stroke-dasharray="7.8 4.93"/>
<line x1="358.8" y1="852.3" x2="358.8" y2="1185.4" stroke="#e6e6e6" stroke-width="1" stroke-dasharray="7.8 4.93"/>
<line x1="359" y1="852.3" x2="359" y2="1185.4" stroke="#e6e6e6" stroke-width="1" stroke-dasharray="7.8 4.93"/>
<line x1="395.1" y1="852.3" x2="395.1" y2="1185.4" stroke="#e6e6e6" stroke-width="1" stroke-dasharray="7.8 4.93"/>
<line x1="449.5" y1="852.3" x2="449.5" y2="1185.4" stroke="#e6e6e6" stroke-width="1" stroke-dasharray="7.8 4.93"/>
<line x1="485.8" y1="852.3" x2="485.8" y2="1185.4" stroke="#e6e6e6" stroke-width="1" stroke-dasharray="7.8 4.93"/>
<line x1="485.9" y1="852.3" x2="485.9" y2="1185.4" stroke="#e6e6e6" stroke-width="1" stroke-dasharray="7.8 4.93"/>
<line x1="522.1" y1="852.3" x2="522.1" y2="1185.4" stroke="#e6e6e6" stroke-width="1" stroke-dasharray="7.8 4.93"/>
<line x1="576.6" y1="852.3" x2="576.6" y2="1185.4" stroke="#e6e6e6" stroke-width="1" stroke-dasharray="7.8 4.93"/>
<line x1="612.4" y1="852.3" x2="612.4" y2="1185.4" stroke="#e6e6e6" stroke-width="1" stroke-dasharray="7.8 4.93"/>
<line x1="612.6" y1="852.3" x2="612.6" y2="1185.4" stroke="#e6e6e6" stroke-width="1" stroke-dasharray="7.8 4.93"/>
<line x1="648.6" y1="852.3" x2="648.6" y2="1185.4" stroke="#e6e6e6" stroke-width="1" stroke-dasharray="7.8 4.93"/>
<line x1="48.5" y1="1158.4" x2="677.5" y2="1158.4" stroke="#e6e6e6" stroke-width="1" stroke-dasharray="8.9 3.83"/>
<line x1="48.5" y1="1099.42" x2="677.5" y2="1099.42" stroke="#e6e6e6" stroke-width="1" stroke-dasharray="8.9 3.83"/>
<line x1="48.5" y1="1040.44" x2="677.5" y2="1040.44" stroke="#e6e6e6" stroke-width="1" stroke-dasharray="8.9 3.83"/>
<line x1="48.5" y1="981.46" x2="677.5" y2="981.46" stroke="#e6e6e6" stroke-width="1" stroke-dasharray="8.9 3.83"/>
<line x1="48.5" y1="922.48" x2="677.5" y2="922.48" stroke="#e6e6e6" stroke-width="1" stroke-dasharray="8.9 3.83"/>
<line x1="48.5" y1="863.5" x2="677.5" y2="863.5" stroke="#e6e6e6" stroke-width="1" stroke-dasharray="8.9 3.83"/>
<line x1="68.7" y1="1026.2" x2="68.7" y2="1071" stroke="#000" stroke-width="1.2"/><path d="M69.2 1070 L69.25 1094.2 L70.2 1098 L70.3 1104.7 L72.3 1114.4 L74.5 1125.3 L77.3 1134 L78.1 1143 L75.3 1152 L71.7 1162.9 L65.7 1162.9 L62.1 1152 L59.3 1143 L60.1 1134 L62.9 1125.3 L65.1 1114.4 L67.1 1104.7 L67.2 1098 L68.15 1094.2 L68.2 1070 Z" fill="#fff" stroke="#000" stroke-width="1.5" stroke-linejoin="round"/><rect x="67.95" y="1070" width="1.5" height="24.2" fill="#000"/><line x1="68.7" y1="1070" x2="68.7" y2="1156.7" stroke="#000" stroke-width="1.2"/><line x1="68.7" y1="1113.5" x2="68.7" y2="1147.4" stroke="#000" stroke-width="2.6"/><circle cx="68.7" cy="1134.9" r="2.0" fill="#fff" stroke="#000" stroke-width="1.3"/>
<line x1="104.9" y1="869.8" x2="104.9" y2="880.6" stroke="#000" stroke-width="1.2"/><line x1="104.9" y1="1003" x2="104.9" y2="1014.6" stroke="#000" stroke-width="1.2"/><line x1="104.9" y1="1043.5" x2="104.9" y2="1122" stroke="#000" stroke-width="1.2"/><path d="M105.2 1121.5 L105.7 1130 L106.5 1136.8 L110 1143.9 L113.9 1148.5 L114.7 1154.1 L111.4 1157.7 L106.4 1159.7 L103.4 1159.7 L98.4 1157.7 L95.1 1154.1 L95.9 1148.5 L99.8 1143.9 L103.3 1136.8 L104.1 1130 L104.6 1121.5 Z" fill="#fff" stroke="#000" stroke-width="1.5" stroke-linejoin="round"/><rect x="103.85" y="1121.5" width="2.1" height="14.3" fill="#000"/><line x1="104.9" y1="1121.5" x2="104.9" y2="1156.5" stroke="#000" stroke-width="1.2"/><line x1="104.9" y1="1135.8" x2="104.9" y2="1154" stroke="#000" stroke-width="2.8"/><circle cx="104.9" cy="1150" r="1.8" fill="#fff" stroke="#000" stroke-width="1.3"/>
<line x1="141.1" y1="1129.1" x2="141.1" y2="1135" stroke="#000" stroke-width="1.2"/><path d="M141.3 1129.1 L141.5 1142.9 L142.4 1146 L143.3 1150 L147.6 1154.1 L150.7 1156.2 L145.5 1158.2 L141.6 1158.8 L140.6 1158.8 L136.7 1158.2 L131.5 1156.2 L134.6 1154.1 L138.9 1150 L139.8 1146 L140.7 1142.9 L140.9 1129.1 Z" fill="#fff" stroke="#000" stroke-width="1.5" stroke-linejoin="round"/><rect x="140.55" y="1129.1" width="1.1" height="13.8" fill="#000"/><line x1="141.1" y1="1129.1" x2="141.1" y2="1150" stroke="#000" stroke-width="1.2"/><line x1="141.1" y1="1142.9" x2="141.1" y2="1150" stroke="#000" stroke-width="2.8"/><ellipse cx="141.1" cy="1153.6" rx="2.4" ry="1.6" fill="#fff" stroke="#000" stroke-width="1.3"/>
<line x1="195.7" y1="875.3" x2="195.7" y2="950.3" stroke="#000" stroke-width="1.8"/><line x1="195.7" y1="950.3" x2="195.7" y2="960" stroke="#000" stroke-width="1.8"/><line x1="195.7" y1="966.5" x2="195.7" y2="1021" stroke="#000" stroke-width="1.8"/><path d="M196.2 1019.7 L196.55 1050 L197.3 1061.5 L197.9 1066 L199.5 1076.2 L202.3 1094 L204.4 1106.5 L205.2 1112.8 L205.1 1121 L204.9 1129.6 L203 1142 L200.1 1155 L198.6 1174 L192.8 1174 L191.3 1155 L188.4 1142 L186.5 1129.6 L186.3 1121 L186.2 1112.8 L187 1106.5 L189.1 1094 L191.9 1076.2 L193.5 1066 L194.1 1061.5 L194.85 1050 L195.2 1019.7 Z" fill="#fff" stroke="#000" stroke-width="1.5" stroke-linejoin="round"/><rect x="194.95" y="1019.7" width="1.5" height="30.3" fill="#000"/><rect x="194.6" y="1050" width="2.2" height="11.5" fill="#000"/><line x1="195.7" y1="1019.7" x2="195.7" y2="1154.7" stroke="#000" stroke-width="1.2"/><line x1="195.7" y1="1062.6" x2="195.7" y2="1136.9" stroke="#000" stroke-width="3.1"/><ellipse cx="195.7" cy="1114.4" rx="2.6" ry="2.0" fill="#fff" stroke="#000" stroke-width="1.3"/>
<line x1="231.9" y1="950.3" x2="231.9" y2="979.4" stroke="#000" stroke-width="1.2"/><line x1="231.9" y1="1025.3" x2="231.9" y2="1040" stroke="#000" stroke-width="1.2"/><path d="M232.5 1039.3 L232.55 1086.1 L233.35 1090 L233.6 1109.5 L235.9 1121.2 L239.7 1131.7 L241.9 1141 L240.9 1151.5 L235.1 1165 L228.7 1165 L222.9 1151.5 L221.9 1141 L224.1 1131.7 L227.9 1121.2 L230.2 1109.5 L230.45 1090 L231.25 1086.1 L231.3 1039.3 Z" fill="#fff" stroke="#000" stroke-width="1.5" stroke-linejoin="round"/><rect x="231" y="1039.3" width="1.8" height="46.8" fill="#000"/><line x1="231.9" y1="1039.3" x2="231.9" y2="1156.8" stroke="#000" stroke-width="1.2"/><line x1="231.9" y1="1109.5" x2="231.9" y2="1150.4" stroke="#000" stroke-width="2.2"/><circle cx="231.9" cy="1136.9" r="1.9" fill="#fff" stroke="#000" stroke-width="1.3"/>
<line x1="268.2" y1="946.3" x2="268.2" y2="957.6" stroke="#000" stroke-width="1.2"/><line x1="268.2" y1="1001.1" x2="268.2" y2="1021.3" stroke="#000" stroke-width="1.2"/><line x1="268.2" y1="1036.6" x2="268.2" y2="1043.1" stroke="#000" stroke-width="1.2"/><line x1="268.2" y1="1049.3" x2="268.2" y2="1087.8" stroke="#000" stroke-width="1.2"/><line x1="268.2" y1="1093.1" x2="268.2" y2="1111" stroke="#000" stroke-width="1.2"/><path d="M268.5 1110.6 L268.9 1130 L270.2 1135.2 L273.6 1142.2 L277.5 1151.5 L278 1153.9 L274.8 1158.5 L271.7 1161 L264.7 1161 L261.6 1158.5 L258.4 1153.9 L258.9 1151.5 L262.8 1142.2 L266.2 1135.2 L267.5 1130 L267.9 1110.6 Z" fill="#fff" stroke="#000" stroke-width="1.5" stroke-linejoin="round"/><rect x="267.3" y="1110.6" width="1.8" height="24.6" fill="#000"/><line x1="268.2" y1="1110.6" x2="268.2" y2="1156.8" stroke="#000" stroke-width="1.2"/><line x1="268.2" y1="1133" x2="268.2" y2="1155" stroke="#000" stroke-width="2.8"/><circle cx="268.2" cy="1151" r="2.0" fill="#fff" stroke="#000" stroke-width="1.3"/>
<line x1="322.5" y1="906.4" x2="322.5" y2="915.4" stroke="#000" stroke-width="1.2"/><line x1="322.5" y1="1050.7" x2="322.5" y2="1067.5" stroke="#000" stroke-width="1.2"/><line x1="322.5" y1="1086.8" x2="322.5" y2="1106" stroke="#000" stroke-width="1.2"/><path d="M322.8 1105.5 L322.9 1113.9 L323.8 1124.2 L326.6 1131.9 L329.9 1141.6 L332.8 1151 L328.6 1157 L325.4 1160.7 L319.6 1160.7 L316.4 1157 L312.2 1151 L315.1 1141.6 L318.4 1131.9 L321.2 1124.2 L322.1 1113.9 L322.2 1105.5 Z" fill="#fff" stroke="#000" stroke-width="1.5" stroke-linejoin="round"/><rect x="321.8" y="1105.5" width="1.4" height="8.4" fill="#000"/><line x1="322.5" y1="1105.5" x2="322.5" y2="1158.4" stroke="#000" stroke-width="1.2"/><line x1="322.5" y1="1133.2" x2="322.5" y2="1153.2" stroke="#000" stroke-width="2.9"/><ellipse cx="322.5" cy="1144.8" rx="2.7" ry="1.5" fill="#fff" stroke="#000" stroke-width="1.3"/>
<line x1="359" y1="1119.9" x2="359" y2="1128" stroke="#000" stroke-width="1.2"/><line x1="359" y1="1132.3" x2="359" y2="1133" stroke="#000" stroke-width="1.2"/><path d="M359.4 1132.3 L359.6 1143.6 L360 1144.6 L363.8 1149.3 L368.3 1154.8 L364.2 1157.4 L360.7 1158.7 L357.3 1158.7 L353.8 1157.4 L349.7 1154.8 L354.2 1149.3 L358 1144.6 L358.4 1143.6 L358.6 1132.3 Z" fill="#fff" stroke="#000" stroke-width="1.5" stroke-linejoin="round"/><rect x="358.15" y="1132.3" width="1.7" height="11.3" fill="#000"/><line x1="359" y1="1132.3" x2="359" y2="1157.5" stroke="#000" stroke-width="1.2"/><line x1="359" y1="1138" x2="359" y2="1150" stroke="#000" stroke-width="2.8"/><ellipse cx="359" cy="1152.7" rx="2.8" ry="1.7" fill="#fff" stroke="#000" stroke-width="1.3"/>
<line x1="395.1" y1="1104.7" x2="395.1" y2="1144" stroke="#000" stroke-width="1.2"/><path d="M395.4 1143.6 L396 1148.4 L397.1 1149.3 L401.1 1151.7 L404.6 1153.9 L400.1 1156.5 L396.6 1157.7 L393.6 1157.7 L390.1 1156.5 L385.6 1153.9 L389.1 1151.7 L393.1 1149.3 L394.2 1148.4 L394.8 1143.6 Z" fill="#fff" stroke="#000" stroke-width="1.5" stroke-linejoin="round"/><rect x="394.15" y="1143.6" width="1.9" height="4.8" fill="#000"/><ellipse cx="395.1" cy="1153.6" rx="1.9" ry="2.3" fill="#fff" stroke="#000" stroke-width="1.3"/>
<line x1="449.5" y1="914.1" x2="449.5" y2="921.9" stroke="#000" stroke-width="1.2"/><line x1="449.5" y1="991.4" x2="449.5" y2="1009.5" stroke="#000" stroke-width="1.2"/><line x1="449.5" y1="1034" x2="449.5" y2="1057.2" stroke="#000" stroke-width="1.2"/><line x1="449.5" y1="1061" x2="449.5" y2="1107" stroke="#000" stroke-width="1.2"/><path d="M449.8 1106.8 L450.8 1114.5 L453 1124.8 L456.5 1136.5 L459.5 1146.1 L458.8 1152 L454.6 1157.7 L451.8 1160.7 L447.2 1160.7 L444.4 1157.7 L440.2 1152 L439.5 1146.1 L442.5 1136.5 L446 1124.8 L448.2 1114.5 L449.2 1106.8 Z" fill="#fff" stroke="#000" stroke-width="1.5" stroke-linejoin="round"/><rect x="448.65" y="1106.8" width="1.7" height="7.7" fill="#000"/><line x1="449.5" y1="1106.8" x2="449.5" y2="1158.4" stroke="#000" stroke-width="1.2"/><line x1="449.5" y1="1129" x2="449.5" y2="1151.3" stroke="#000" stroke-width="2.4"/><circle cx="449.5" cy="1141.9" r="1.8" fill="#fff" stroke="#000" stroke-width="1.3"/>
<line x1="485.9" y1="1105.7" x2="485.9" y2="1115" stroke="#000" stroke-width="1.2"/><path d="M486.2 1114.4 L486.5 1125 L487 1130.8 L490.6 1137.9 L495.4 1148.6 L494.4 1153.2 L487.4 1159 L484.4 1159 L477.4 1153.2 L476.4 1148.6 L481.2 1137.9 L484.8 1130.8 L485.3 1125 L485.6 1114.4 Z" fill="#fff" stroke="#000" stroke-width="1.5" stroke-linejoin="round"/><rect x="485.05" y="1114.4" width="1.7" height="15.3" fill="#000"/><line x1="485.9" y1="1114.4" x2="485.9" y2="1157" stroke="#000" stroke-width="1.2"/><line x1="485.9" y1="1140" x2="485.9" y2="1152.2" stroke="#000" stroke-width="3.1"/><circle cx="485.9" cy="1147.6" r="2.2" fill="#fff" stroke="#000" stroke-width="1.3"/>
<line x1="522.1" y1="1112.4" x2="522.1" y2="1121" stroke="#000" stroke-width="1.2"/><line x1="522.1" y1="1125" x2="522.1" y2="1141" stroke="#000" stroke-width="1.2"/><path d="M522.3 1130 L523.5 1141 L527.6 1146.1 L531.9 1151.2 L530.9 1154 L523.6 1158.2 L520.6 1158.2 L513.3 1154 L512.3 1151.2 L516.6 1146.1 L520.7 1141 L521.9 1130 Z" fill="#fff" stroke="#000" stroke-width="1.5" stroke-linejoin="round"/><rect x="521.3" y="1134" width="1.6" height="7" fill="#000"/><line x1="522.1" y1="1130" x2="522.1" y2="1157" stroke="#000" stroke-width="1.2"/><line x1="522.1" y1="1141" x2="522.1" y2="1147" stroke="#000" stroke-width="2.8"/><circle cx="522.1" cy="1149.6" r="1.8" fill="#fff" stroke="#000" stroke-width="1.3"/>
<line x1="576.6" y1="1036.4" x2="576.6" y2="1052.5" stroke="#000" stroke-width="1.3"/><line x1="576.6" y1="1052.5" x2="576.6" y2="1067.8" stroke="#000" stroke-width="2.0"/><line x1="576.6" y1="1067.8" x2="576.6" y2="1084" stroke="#000" stroke-width="1.4"/><path d="M576.8 1083.1 L577.9 1092.8 L579.6 1107.3 L582 1120.2 L585.4 1134.7 L586 1141.2 L584.4 1150.8 L580.3 1158.9 L577.8 1163 L575.4 1163 L572.9 1158.9 L568.8 1150.8 L567.2 1141.2 L567.8 1134.7 L571.2 1120.2 L573.6 1107.3 L575.3 1092.8 L576.4 1083.1 Z" fill="#fff" stroke="#000" stroke-width="1.5" stroke-linejoin="round"/><rect x="575.8" y="1083.1" width="1.6" height="8.1" fill="#000"/><line x1="576.6" y1="1083.1" x2="576.6" y2="1156.5" stroke="#000" stroke-width="1.2"/><line x1="576.6" y1="1110.5" x2="576.6" y2="1144.4" stroke="#000" stroke-width="2.4"/><circle cx="576.6" cy="1133.9" r="2.1" fill="#fff" stroke="#000" stroke-width="1.3"/>
<line x1="612.4" y1="1006.6" x2="612.4" y2="1103" stroke="#000" stroke-width="1.2"/><path d="M612.7 1102.5 L613.1 1115 L614.1 1121.8 L618.5 1134.7 L622.6 1148 L619 1154 L613.2 1160 L611.6 1160 L605.8 1154 L602.2 1148 L606.3 1134.7 L610.7 1121.8 L611.7 1115 L612.1 1102.5 Z" fill="#fff" stroke="#000" stroke-width="1.5" stroke-linejoin="round"/><rect x="611.6" y="1102.5" width="1.6" height="17.7" fill="#000"/><line x1="612.4" y1="1102.5" x2="612.4" y2="1157.3" stroke="#000" stroke-width="1.2"/><line x1="612.4" y1="1129.8" x2="612.4" y2="1149.2" stroke="#000" stroke-width="3.2"/><circle cx="612.4" cy="1142.8" r="2.1" fill="#fff" stroke="#000" stroke-width="1.3"/>
<line x1="648.6" y1="1099.3" x2="648.6" y2="1101.7" stroke="#000" stroke-width="1.2"/><line x1="648.6" y1="1120.2" x2="648.6" y2="1132" stroke="#000" stroke-width="1.2"/><path d="M648.9 1131.5 L650.7 1141.2 L655.1 1146 L658.4 1150 L655.8 1155.3 L649.6 1159 L647.6 1159 L641.4 1155.3 L638.8 1150 L642.1 1146 L646.5 1141.2 L648.3 1131.5 Z" fill="#fff" stroke="#000" stroke-width="1.5" stroke-linejoin="round"/><rect x="647.9" y="1131.5" width="1.4" height="9.7" fill="#000"/><line x1="648.6" y1="1131.5" x2="648.6" y2="1157" stroke="#000" stroke-width="1.2"/><line x1="648.6" y1="1141" x2="648.6" y2="1146" stroke="#000" stroke-width="2.8"/><ellipse cx="648.6" cy="1148.4" rx="2.9" ry="1.4" fill="#fff" stroke="#000" stroke-width="1.3"/>
<line x1="48.5" y1="852.3" x2="48.5" y2="1186.1" stroke="#1e1e1e" stroke-width="1.3"/>
<line x1="47.8" y1="1185.4" x2="677.5" y2="1185.4" stroke="#1e1e1e" stroke-width="1.4"/>
<line x1="42.5" y1="1158.4" x2="48.5" y2="1158.4" stroke="#1e1e1e" stroke-width="1.3"/>
<text x="39.9" y="1164" text-anchor="end">0</text>
<line x1="42.5" y1="1099.42" x2="48.5" y2="1099.42" stroke="#1e1e1e" stroke-width="1.3"/>
<text x="39.9" y="1105.02" text-anchor="end">.2</text>
<line x1="42.5" y1="1040.44" x2="48.5" y2="1040.44" stroke="#1e1e1e" stroke-width="1.3"/>
<text x="39.9" y="1046.04" text-anchor="end">.4</text>
<line x1="42.5" y1="981.46" x2="48.5" y2="981.46" stroke="#1e1e1e" stroke-width="1.3"/>
<text x="39.9" y="987.06" text-anchor="end">.6</text>
<line x1="42.5" y1="922.48" x2="48.5" y2="922.48" stroke="#1e1e1e" stroke-width="1.3"/>
<text x="39.9" y="928.08" text-anchor="end">.8</text>
<line x1="42.5" y1="863.5" x2="48.5" y2="863.5" stroke="#1e1e1e" stroke-width="1.3"/>
<path transform="translate(31.67 869.1) scale(0.007227 -0.007227)" d="M515 0V1237L197 1010V1180L530 1409H696V0Z" fill="#1a1a1a" stroke="#1a1a1a" stroke-width="55.4"/>
<text x="0" y="0" text-anchor="middle" transform="translate(13.1 1018.85) rotate(-90)">FWR</text>
<text x="68.7" y="1199.3" text-anchor="middle">-35</text>
<text x="104.9" y="1199.3" text-anchor="middle">35-49</text>
<text x="141.1" y="1199.3" text-anchor="middle">50+</text>
<text x="104.9" y="1214" text-anchor="middle">Meat</text>
<text x="195.7" y="1199.3" text-anchor="middle">-35</text>
<text x="231.9" y="1199.3" text-anchor="middle">35-49</text>
<text x="268.2" y="1199.3" text-anchor="middle">50+</text>
<text x="231.95" y="1214" text-anchor="middle">Fish</text>
<text x="322.5" y="1199.3" text-anchor="middle">-35</text>
<text x="359" y="1199.3" text-anchor="middle">35-49</text>
<text x="395.1" y="1199.3" text-anchor="middle">50+</text>
<text x="358.8" y="1214" text-anchor="middle">Dairy</text>
<text x="449.5" y="1199.3" text-anchor="middle">-35</text>
<text x="485.9" y="1199.3" text-anchor="middle">35-49</text>
<text x="522.1" y="1199.3" text-anchor="middle">50+</text>
<text x="485.8" y="1214" text-anchor="middle">Other</text>
<text x="576.6" y="1199.3" text-anchor="middle">-35</text>
<text x="612.4" y="1199.3" text-anchor="middle">35-49</text>
<text x="648.6" y="1199.3" text-anchor="middle">50+</text>
<text x="612.6" y="1214" text-anchor="middle">Vegetables</text>
<text x="358.7" y="1233.4" text-anchor="middle" class="ttl">c) Age</text>
</svg>
</body></html>
